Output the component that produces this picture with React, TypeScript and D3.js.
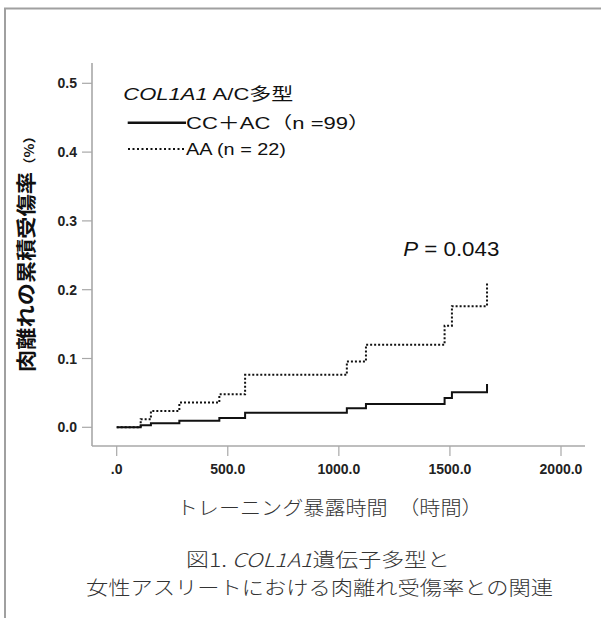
import React, { useEffect, useRef } from 'react';
import * as d3 from 'd3';

// 累積受傷率 (Kaplan-Meier 風ステップ) — 図から読み取った値
const timeHours = [0, 108, 154, 282, 462, 578, 1036, 1122, 1476, 1509, 1667];
const riskCCAC = [0, 0.003, 0.006, 0.0096, 0.0136, 0.0213, 0.0277, 0.034, 0.0427, 0.051, 0.063];
const riskAA = [0, 0.0117, 0.0238, 0.0359, 0.048, 0.0762, 0.0956, 0.12, 0.1477, 0.176, 0.212];

const xTicks = [0, 500, 1000, 1500, 2000];
const xTickLabels = ['.0', '500.0', '1000.0', '1500.0', '2000.0'];
const yTicks = [0, 0.1, 0.2, 0.3, 0.4, 0.5];
const yTickLabels = ['0.0', '0.1', '0.2', '0.3', '0.4', '0.5'];

const LATIN = "'Liberation Sans', Arial, 'Noto Sans CJK JP', sans-serif";
const CJK = "'Noto Sans CJK JP', 'Liberation Sans', sans-serif";

const App = () => {
  const svgRef = useRef<SVGSVGElement>(null);

  useEffect(() => {
    const svg = d3.select(svgRef.current);
    svg.selectAll('*').remove();

    const x = d3.scaleLinear().domain([0, 2000]).range([116.7, 561]);
    const y = d3.scaleLinear().domain([0, 0.5]).range([427.3, 83.3]);

    // 外枠
    svg.append('path')
      .attr('d', 'M5,620 L5,8.5 L605,8.5')
      .attr('fill', 'none')
      .attr('stroke', '#a0a0a0')
      .attr('stroke-width', 2);

    const axisColor = '#a8a8a8';

    // 軸線
    svg.append('line')
      .attr('x1', 92).attr('x2', 92).attr('y1', 63).attr('y2', 446)
      .attr('stroke', axisColor).attr('stroke-width', 1.6);
    svg.append('line')
      .attr('x1', 92).attr('x2', 585).attr('y1', 446).attr('y2', 446)
      .attr('stroke', axisColor).attr('stroke-width', 1.6);

    // y 目盛
    yTicks.forEach((t, i) => {
      svg.append('line')
        .attr('x1', 82).attr('x2', 92).attr('y1', y(t)).attr('y2', y(t))
        .attr('stroke', axisColor).attr('stroke-width', 1.2);
      svg.append('text')
        .attr('x', 77).attr('y', y(t)).attr('dy', '0.36em')
        .attr('text-anchor', 'end')
        .style('font-family', LATIN).style('font-size', '14px').style('font-weight', 'bold')
        .style('fill', '#222')
        .text(yTickLabels[i]);
    });

    // x 目盛
    xTicks.forEach((t, i) => {
      svg.append('line')
        .attr('x1', x(t)).attr('x2', x(t)).attr('y1', 446).attr('y2', 456)
        .attr('stroke', axisColor).attr('stroke-width', 1.2);
      svg.append('text')
        .attr('x', x(t)).attr('y', 474)
        .attr('text-anchor', 'middle')
        .style('font-family', LATIN).style('font-size', '14px').style('font-weight', 'bold')
        .style('fill', '#222')
        .text(xTickLabels[i]);
    });

    // ステップ曲線
    const step = d3.line<number>()
      .x((_, i) => x(timeHours[i]))
      .y(d => y(d))
      .curve(d3.curveStepAfter);

    svg.append('path')
      .datum(riskCCAC)
      .attr('d', step)
      .attr('fill', 'none')
      .attr('stroke', '#111')
      .attr('stroke-width', 2);

    svg.append('path')
      .datum(riskAA)
      .attr('d', step)
      .attr('fill', 'none')
      .attr('stroke', '#111')
      .attr('stroke-width', 2)
      .attr('stroke-dasharray', '2,2');

    // 凡例
    const title = svg.append('text')
      .attr('x', 123.3).attr('y', 99.5)
      .attr('textLength', 170).attr('lengthAdjust', 'spacingAndGlyphs')
      .style('font-family', LATIN).style('font-size', '17px').style('fill', '#111');
    title.append('tspan').style('font-style', 'italic').text('COL1A1');
    title.append('tspan').text(' A/C多型');

    svg.append('line')
      .attr('x1', 127.7).attr('x2', 186).attr('y1', 122.7).attr('y2', 122.7)
      .attr('stroke', '#111').attr('stroke-width', 2.4);
    svg.append('text')
      .attr('x', 186).attr('y', 128.5)
      .attr('textLength', 184).attr('lengthAdjust', 'spacingAndGlyphs')
      .style('font-family', LATIN).style('font-size', '17px').style('fill', '#111')
      .text('CC＋AC（n  =99）');

    svg.append('line')
      .attr('x1', 128).attr('x2', 186).attr('y1', 149).attr('y2', 149)
      .attr('stroke', '#111').attr('stroke-width', 2)
      .attr('stroke-dasharray', '2,2.5');
    svg.append('text')
      .attr('x', 186).attr('y', 154.5)
      .attr('textLength', 100).attr('lengthAdjust', 'spacingAndGlyphs')
      .style('font-family', LATIN).style('font-size', '17px').style('fill', '#111')
      .text('AA (n = 22)');

    // P 値
    const p = svg.append('text')
      .attr('x', 403.3).attr('y', 256)
      .attr('textLength', 96).attr('lengthAdjust', 'spacingAndGlyphs')
      .style('font-family', LATIN).style('font-size', '20px').style('fill', '#111');
    p.append('tspan').style('font-style', 'italic').text('P');
    p.append('tspan').text(' = 0.043');

    // y 軸ラベル
    svg.append('text')
      .attr('transform', 'translate(25,372) rotate(-90)')
      .attr('dominant-baseline', 'central')
      .attr('textLength', 200).attr('lengthAdjust', 'spacingAndGlyphs')
      .style('font-family', CJK).style('font-size', '20px').style('font-weight', 'bold')
      .style('fill', '#111')
      .text('肉離れの累積受傷率');
    svg.append('text')
      .attr('transform', 'translate(28,172) rotate(-90)')
      .attr('dominant-baseline', 'central')
      .attr('textLength', 43).attr('lengthAdjust', 'spacingAndGlyphs')
      .style('font-family', CJK).style('font-size', '13px').style('font-weight', 'bold')
      .style('fill', '#111')
      .text('（%）');

    // x 軸ラベル
    svg.append('text')
      .attr('x', 176.7).attr('y', 515)
      .attr('textLength', 306).attr('lengthAdjust', 'spacingAndGlyphs')
      .style('font-family', CJK).style('font-size', '19px').style('font-weight', 300)
      .style('fill', '#333')
      .text('トレーニング暴露時間　（時間）');

    // 図タイトル
    const cap1 = svg.append('text')
      .attr('x', 186).attr('y', 567)
      .attr('textLength', 264).attr('lengthAdjust', 'spacingAndGlyphs')
      .style('font-family', CJK).style('font-size', '19px').style('font-weight', 300)
      .style('fill', '#333');
    cap1.append('tspan').text('図1. ');
    cap1.append('tspan').style('font-style', 'italic').text('COL1A1');
    cap1.append('tspan').text('遺伝子多型と');

    svg.append('text')
      .attr('x', 86).attr('y', 595)
      .attr('textLength', 467).attr('lengthAdjust', 'spacingAndGlyphs')
      .style('font-family', CJK).style('font-size', '19px').style('font-weight', 300)
      .style('fill', '#333')
      .text('女性アスリートにおける肉離れ受傷率との関連');
  }, []);

  return (
    <svg
      ref={svgRef}
      width={601}
      height={618}
      style={{ position: 'absolute', left: 0, top: 0, background: '#fff' }}
    />
  );
};

export default App;
